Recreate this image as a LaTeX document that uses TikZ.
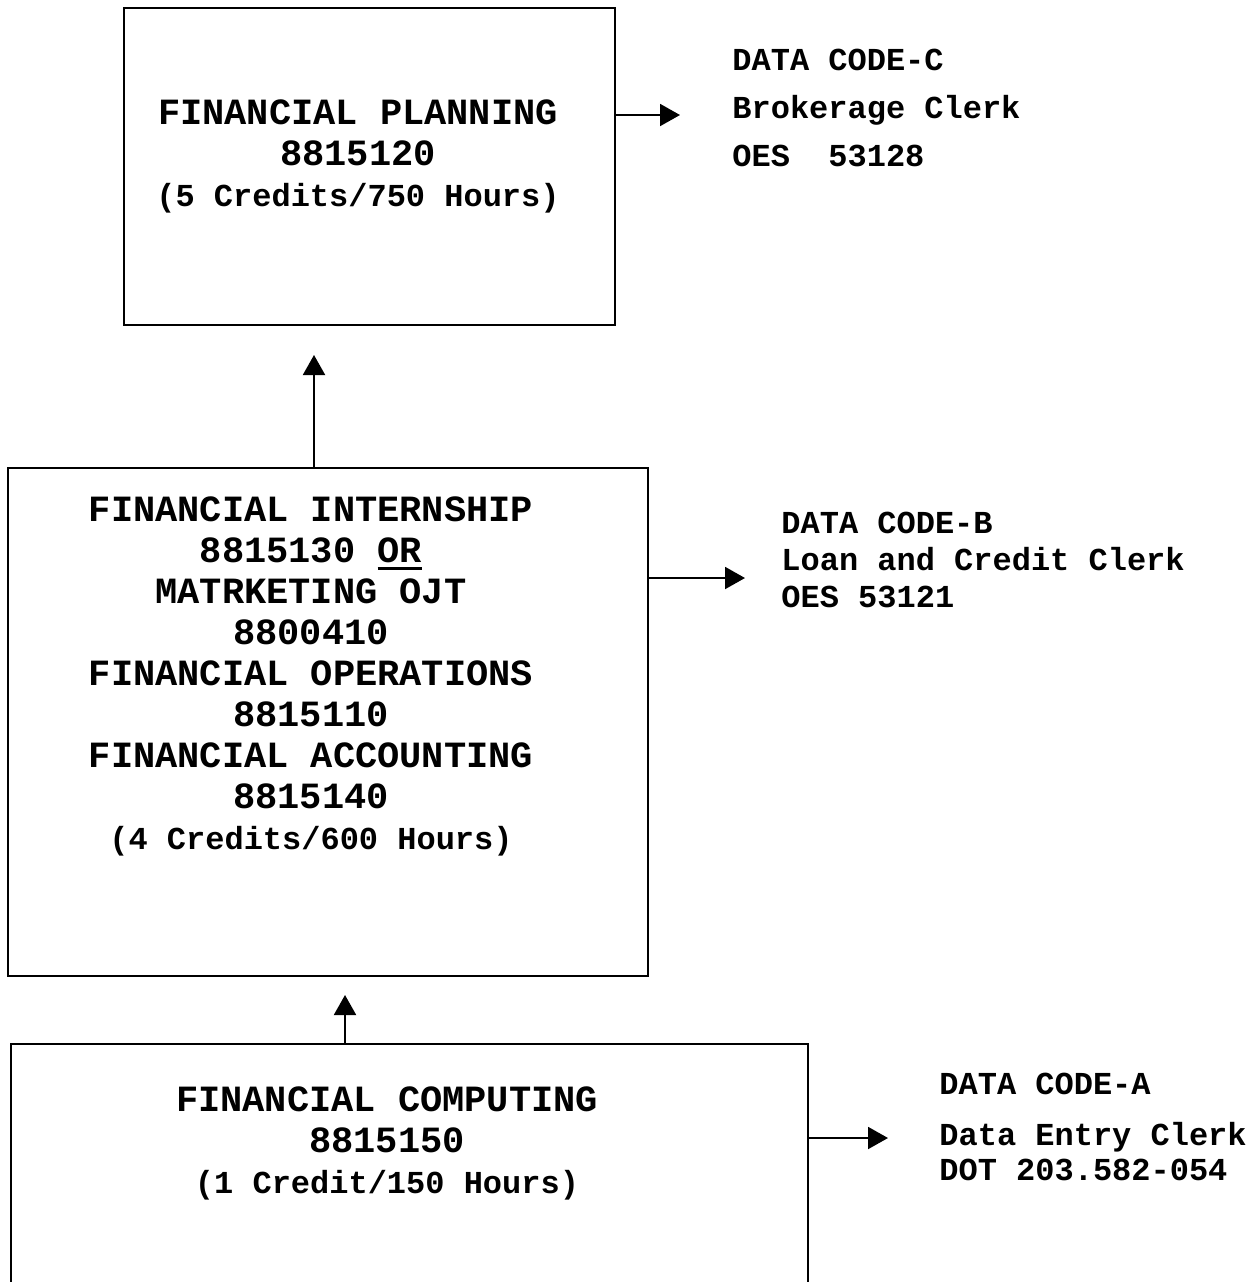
\documentclass[tikz,border=0pt]{standalone}
\usepackage{fontspec}
\setmainfont{Liberation Mono}
\usetikzlibrary{arrows.meta}
\newcommand\thickul[1]{\setbox0\hbox{#1}\rlap{\rule[-4pt]{\wd0}{1.6pt}}\box0}
\begin{document}
\begin{tikzpicture}[x=0.5pt,y=-0.5pt,
  box/.style={draw, line width=1pt, rectangle, inner sep=0pt, anchor=north west},
  big/.style={font=\bfseries\fontsize{18.5}{20.5}\selectfont, align=center},
  side/.style={font=\bfseries\fontsize{16}{24}\selectfont, align=left, anchor=west, inner sep=0pt},
  arr/.style={line width=1pt, -{Triangle[length=10pt,width=11pt]}}]
\useasboundingbox (0,0) rectangle (1255,1282);
% boxes
\node[box, minimum width=245.5pt, minimum height=158.5pt] (b1) at (123,7) {};
\node[box, minimum width=320pt, minimum height=254pt] (b2) at (7,467) {};
\node[box, minimum width=398.5pt, minimum height=140pt] (b3) at (10,1043) {};
% box texts
\node[big] (t1) at (358,156) {FINANCIAL PLANNING\\8815120\\{\fontsize{16}{21}\selectfont (5 Credits/750 Hours)}};
\node[big] (t2) at (311,676) {FINANCIAL INTERNSHIP\\8815130 \thickul{OR}\\MATRKETING OJT\\8800410\\FINANCIAL OPERATIONS\\8815110\\FINANCIAL ACCOUNTING\\8815140\\{\fontsize{16}{18}\selectfont (4 Credits/600 Hours)}};
\node[big] (t3) at (387,1143) {FINANCIAL COMPUTING\\8815150\\{\fontsize{16}{20}\selectfont (1 Credit/150 Hours)}};
% side texts
\node[side] (c) at (732,108) {DATA CODE-C\\Brokerage Clerk\\OES\ \ 53128};
\node[side, font=\bfseries\fontsize{16}{18.5}\selectfont] (bb) at (781,560) {DATA CODE-B\\Loan and Credit Clerk\\OES 53121};
\node[side, font=\bfseries\fontsize{16}{17.5}\selectfont] (aa) at (939,1127) {DATA CODE-A\\[8pt]Data Entry Clerk\\DOT 203.582-054};
% arrow end coordinates
\coordinate (e1) at (680,115);
\coordinate (e2) at (745,578);
\coordinate (e3) at (888,1138);
\coordinate (u1) at (314,355);
\coordinate (u2) at (345,995);
% connectors
\draw[arr] (b1.east |- e1) -- (e1);
\draw[arr] (b2.east |- e2) -- (e2);
\draw[arr] (b3.east |- e3) -- (e3);
\draw[arr] (b2.north -| u1) -- (u1);
\draw[arr] (b3.north -| u2) -- (u2);
\end{tikzpicture}
\end{document}
